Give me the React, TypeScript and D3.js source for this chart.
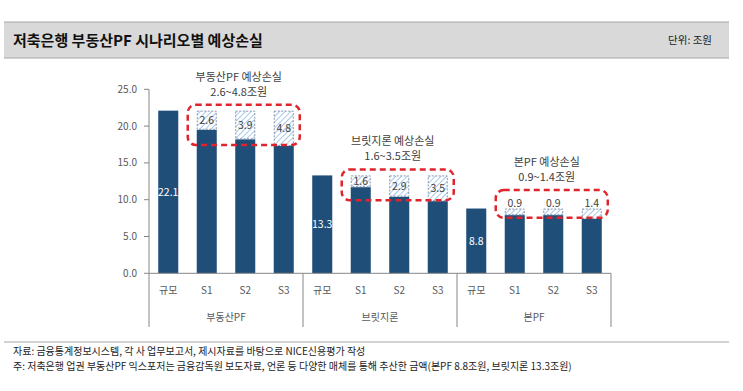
import * as d3 from "d3";

const groups = ["부동산PF", "브릿지론", "본PF"];
const scenarios = ["규모", "S1", "S2", "S3"];
const exposure = [22.1, 13.3, 8.8];
const losses = [
  [2.6, 3.9, 4.8],
  [1.6, 2.9, 3.5],
  [0.9, 0.9, 1.4],
];
const noteTitles = ["부동산PF 예상손실", "브릿지론 예상손실", "본PF 예상손실"];
const noteRanges = ["2.6~4.8조원", "1.6~3.5조원", "0.9~1.4조원"];
const yTicks = [0, 5, 10, 15, 20, 25];

const FONT = "'Noto Sans CJK KR', 'Noto Sans', sans-serif";
const NAVY = "#1f4e79";
const RED = "#e0242c";

export default function App() {
  const width = 743;
  const height = 391;
  const axisX = 149;
  const axisRight = 611;
  const y0 = 273.3;

  const keys = groups.flatMap((g) => scenarios.map((s) => `${g}|${s}`));
  const x = d3.scaleBand<string>().domain(keys).range([axisX, axisRight]).paddingInner(0.48).paddingOuter(0.24);
  const y = d3.scaleLinear().domain([0, 25]).range([y0, 89.3]);
  const bw = x.bandwidth();
  const step = x.step();
  const groupW = step * scenarios.length;

  return (
    <svg
      width={width}
      height={height}
      style={{ position: "absolute", left: 0, top: 0, display: "block", background: "#fff" }}
      fontFamily={FONT}
    >
      <defs>
        <pattern id="hatch" patternUnits="userSpaceOnUse" width={4} height={4} patternTransform="rotate(45)">
          <rect width={4} height={4} fill="#ffffff" />
          <line x1={0} y1={0} x2={0} y2={4} stroke="#a9c8e8" strokeWidth={2} />
        </pattern>
      </defs>

      {/* title bar */}
      <rect x={4} y={22} width={725} height={36} fill="#d9d9d9" />
      <line x1={4} x2={729} y1={22} y2={22} stroke="#a6a6a6" />
      <line x1={4} x2={729} y1={58} y2={58} stroke="#a6a6a6" />
      <text x={13} y={45.5} fontSize={15} fontWeight="bold" fill="#111">
        저축은행 부동산PF 시나리오별 예상손실
      </text>
      <text x={712} y={44} fontSize={10.5} textAnchor="end" fill="#222">
        단위: 조원
      </text>

      {/* y axis */}
      <line x1={axisX} x2={axisX} y1={y(25)} y2={y0} stroke="#868686" />
      {yTicks.map((t) => (
        <g key={t}>
          <line x1={axisX - 5} x2={axisX} y1={y(t)} y2={y(t)} stroke="#868686" />
          <text x={137} y={y(t) + 3.5} fontSize={10} textAnchor="end" fill="#595959">
            {t.toFixed(1)}
          </text>
        </g>
      ))}

      {/* bars */}
      {groups.map((g, gi) => {
        const total = exposure[gi];
        const bars = scenarios.map((s, si) => {
          const bx = x(`${g}|${s}`)!;
          if (si === 0) {
            return (
              <g key={s}>
                <rect x={bx} y={y(total)} width={bw} height={y0 - y(total)} fill={NAVY} />
                <text x={bx + bw / 2} y={y(total / 2) + 4} fontSize={10.5} textAnchor="middle" fill="#fff">
                  {total.toFixed(1)}
                </text>
              </g>
            );
          }
          const loss = losses[gi][si - 1];
          const base = total - loss;
          const segTop = y(total);
          const segH = y(base) - y(total);
          const ly = loss < 1.5 ? segTop - 2 : segTop + segH / 2 + 4;
          return (
            <g key={s}>
              <rect x={bx} y={y(base)} width={bw} height={y0 - y(base)} fill={NAVY} />
              <rect
                x={bx + 0.5}
                y={segTop + 0.5}
                width={bw - 1}
                height={segH - 1}
                fill="url(#hatch)"
                stroke="#8497b0"
                strokeWidth={1}
                strokeDasharray="2,1.5"
              />
              <text x={bx + bw / 2} y={ly} fontSize={10.5} textAnchor="middle" fill="#404040">
                {loss.toFixed(1)}
              </text>
            </g>
          );
        });

        // red dashed highlight box around the loss segments
        const minBase = d3.min(losses[gi], (l) => total - l)!;
        const hasAbove = losses[gi].some((l) => l < 1.5);
        const top = (hasAbove ? y(total) - 12.5 : y(total)) - 6;
        const bottom = y(minBase) - 1;
        const left = x(`${g}|S1`)! - 9;
        const right = x(`${g}|S3`)! + bw + 6;
        const cx = (left + right) / 2 - 5;
        return (
          <g key={g}>
            {bars}
            <rect
              x={left}
              y={top}
              width={right - left}
              height={bottom - top}
              rx={8}
              fill="none"
              stroke={RED}
              strokeWidth={2.5}
              strokeDasharray="6,4"
            />
            <text x={cx} y={top - 13 - 15 + 4} fontSize={11} textAnchor="middle" fill="#404040">
              {noteTitles[gi]}
            </text>
            <text x={cx} y={top - 13 + 4} fontSize={11} textAnchor="middle" fill="#404040">
              {noteRanges[gi]}
            </text>
          </g>
        );
      })}

      {/* x axis with two-level categories */}
      <line x1={axisX} x2={axisRight} y1={y0} y2={y0} stroke="#868686" />
      {d3.range(groups.length + 1).map((i) => (
        <line key={i} x1={axisX + i * groupW} x2={axisX + i * groupW} y1={y0} y2={327} stroke="#868686" />
      ))}
      {keys.map((k) => (
        <text key={k} x={x(k)! + bw / 2} y={294} fontSize={10} textAnchor="middle" fill="#595959">
          {k.split("|")[1]}
        </text>
      ))}
      {groups.map((g, gi) => (
        <text key={g} x={axisX + (gi + 0.5) * groupW} y={321} fontSize={10} textAnchor="middle" fill="#595959">
          {g}
        </text>
      ))}

      {/* footer */}
      <line x1={4} x2={729} y1={342} y2={342} stroke="#a6a6a6" />
      <text x={13} y={355} fontSize={10} fill="#222">
        자료: 금융통계정보시스템, 각 사 업무보고서, 제시자료를 바탕으로 NICE신용평가 작성
      </text>
      <text x={13} y={370} fontSize={10} fill="#222">
        주: 저축은행 업권 부동산PF 익스포저는 금융감독원 보도자료, 언론 등 다양한 매체를 통해 추산한 금액(본PF 8.8조원, 브릿지론 13.3조원)
      </text>
    </svg>
  );
}
